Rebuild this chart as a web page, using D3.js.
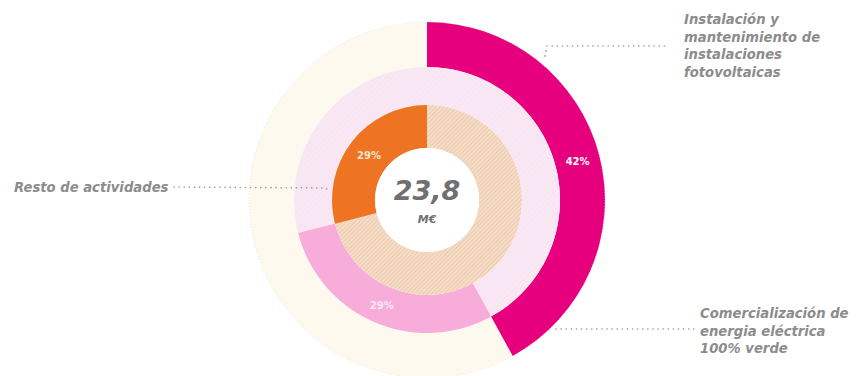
<!DOCTYPE html>
<html>
<head>
<meta charset="utf-8">
<script src="https://cdn.jsdelivr.net/npm/d3@7"></script>
<style>
  html, body { margin: 0; padding: 0; background: #fff; }
  svg { display: block; }
  .lbl { font-family: "DejaVu Sans", sans-serif; font-weight: 700; font-style: oblique; fill: #8c8c8c; }
</style>
</head>
<body>
<svg id="chart" width="861" height="376"></svg>
<script>
// Reparto de la cifra de negocio por actividad
const categories = [
  "Instalación y mantenimiento de instalaciones fotovoltaicas",
  "Comercialización de energia eléctrica 100% verde",
  "Resto de actividades"
];
const shares = [42, 29, 29];
const shareLabels = ["42%", "29%", "29%"];
const totalValue = "23,8";
const totalUnit = "M€";
const labelLines = [
  ["Instalación y", "mantenimiento de", "instalaciones", "fotovoltaicas"],
  ["Comercialización de", "energia eléctrica", "100% verde"],
  ["Resto de actividades"]
];

const W = 861, H = 376;
const cx = 427, cy = 200;
const svg = d3.select("#chart");

// hatch patterns for the ring backgrounds
const defs = svg.append("defs");
const hatchInner = defs.append("pattern")
  .attr("id", "hatchInner").attr("patternUnits", "userSpaceOnUse")
  .attr("width", 3).attr("height", 3).attr("patternTransform", "rotate(45)");
hatchInner.append("rect").attr("width", 3).attr("height", 3).attr("fill", "#f5dcc6");
hatchInner.append("line").attr("x1", 0).attr("y1", 0).attr("x2", 0).attr("y2", 3)
  .attr("stroke", "#e6c09f").attr("stroke-width", 1.1);

const hatchMid = defs.append("pattern")
  .attr("id", "hatchMid").attr("patternUnits", "userSpaceOnUse")
  .attr("width", 4).attr("height", 4).attr("patternTransform", "rotate(45)");
hatchMid.append("rect").attr("width", 4).attr("height", 4).attr("fill", "#f9e7f3");
hatchMid.append("line").attr("x1", 0).attr("y1", 0).attr("x2", 0).attr("y2", 4)
  .attr("stroke", "#f5def0").attr("stroke-width", 0.8);

// each activity sits on its own ring
const rings = [
  { inner: 133, outer: 178, bg: "#fdf9ee", color: "#e6007e", text: "#ffffff" },
  { inner: 95,  outer: 133, bg: "url(#hatchMid)", color: "#f8acd9", text: "#fde6f3" },
  { inner: 52,  outer: 95,  bg: "url(#hatchInner)", color: "#ee7424", text: "#fde3cf" }
];

const pie = d3.pie().sort(null).value(d => d);
const slices = pie(shares);

const g = svg.append("g").attr("transform", `translate(${cx},${cy})`);

rings.forEach((ring, i) => {
  const arc = d3.arc().innerRadius(ring.inner).outerRadius(ring.outer);
  // full background ring
  g.append("path")
    .attr("d", arc({ startAngle: 0, endAngle: 2 * Math.PI }))
    .attr("fill", ring.bg);
  // the activity's share
  g.append("path")
    .attr("d", arc(slices[i]))
    .attr("fill", ring.color);
  const [lx, ly] = arc.centroid(slices[i]);
  g.append("text")
    .attr("x", lx).attr("y", ly + 4)
    .attr("text-anchor", "middle")
    .attr("font-family", "DejaVu Sans, sans-serif")
    .attr("font-weight", 700)
    .attr("font-size", 10)
    .attr("fill", ring.text)
    .text(shareLabels[i]);
});

// faint dotted rim of the outer ring
g.append("circle").attr("r", 178).attr("fill", "none")
  .attr("stroke", "#e6e0d4").attr("stroke-width", 0.7).attr("stroke-dasharray", "1 2");

// centre disc and total
g.append("circle").attr("r", 52).attr("fill", "#ffffff");
g.append("text").attr("x", 0).attr("y", 0)
  .attr("text-anchor", "middle")
  .attr("font-family", "DejaVu Sans, sans-serif")
  .attr("font-weight", 700).attr("font-style", "oblique")
  .attr("font-size", 27).attr("fill", "#707070")
  .text(totalValue);
g.append("text").attr("x", 0).attr("y", 23)
  .attr("text-anchor", "middle")
  .attr("font-family", "DejaVu Sans, sans-serif")
  .attr("font-weight", 700).attr("font-style", "oblique")
  .attr("font-size", 11).attr("fill", "#707070")
  .text(totalUnit);

// dotted leader lines
const leaders = [
  [[545, 56], [547, 46], [668, 46]],
  [[556, 329], [694, 329]],
  [[174, 187], [326, 188], [329, 192]]
];
const line = d3.line();
leaders.forEach(pts => {
  svg.append("path").attr("d", line(pts)).attr("fill", "none")
    .attr("stroke", "#999999").attr("stroke-width", 1.6)
    .attr("stroke-linecap", "round").attr("stroke-dasharray", "0.1 5");
});

// category labels
const labelPos = [
  { x: 684, y: 24, anchor: "start" },
  { x: 700, y: 318, anchor: "start" },
  { x: 14, y: 192, anchor: "start" }
];
labelLines.forEach((lines, i) => {
  const t = svg.append("text").attr("class", "lbl")
    .attr("x", labelPos[i].x).attr("y", labelPos[i].y)
    .attr("font-size", 13.2).attr("text-anchor", labelPos[i].anchor);
  lines.forEach((s, j) => {
    t.append("tspan").attr("x", labelPos[i].x).attr("dy", j === 0 ? 0 : 17.7).text(s);
  });
});
</script>
</body>
</html>
